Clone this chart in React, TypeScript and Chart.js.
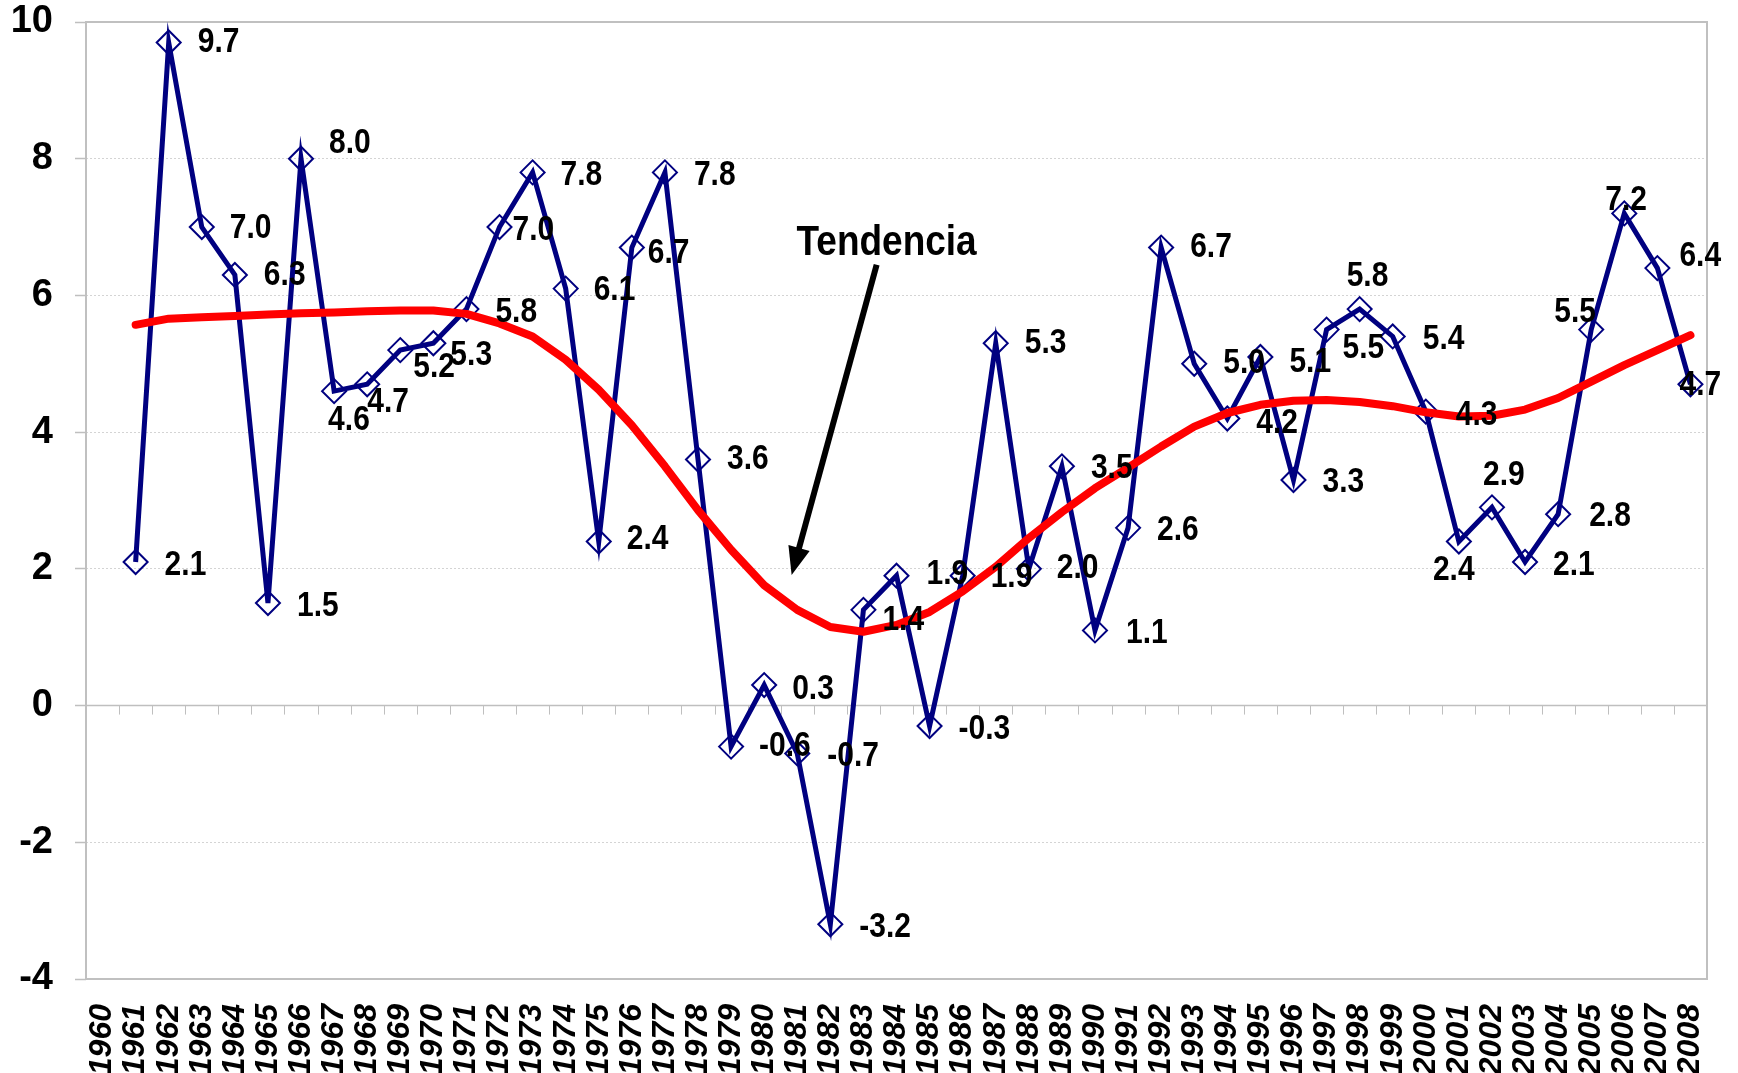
import React, { useEffect, useRef } from 'react';
import { Chart, registerables } from 'chart.js';

Chart.register(...registerables);

const years = [
  '1960', '1961', '1962', '1963', '1964', '1965', '1966', '1967', '1968', '1969',
  '1970', '1971', '1972', '1973', '1974', '1975', '1976', '1977', '1978', '1979',
  '1980', '1981', '1982', '1983', '1984', '1985', '1986', '1987', '1988', '1989',
  '1990', '1991', '1992', '1993', '1994', '1995', '1996', '1997', '1998', '1999',
  '2000', '2001', '2002', '2003', '2004', '2005', '2006', '2007', '2008',
];

const growth: (number | null)[] = [
  null, 2.1, 9.7, 7.0, 6.3, 1.5, 8.0, 4.6, 4.7, 5.2,
  5.3, 5.8, 7.0, 7.8, 6.1, 2.4, 6.7, 7.8, 3.6, -0.6,
  0.3, -0.7, -3.2, 1.4, 1.9, -0.3, 1.9, 5.3, 2.0, 3.5,
  1.1, 2.6, 6.7, 5.0, 4.2, 5.1, 3.3, 5.5, 5.8, 5.4,
  4.3, 2.4, 2.9, 2.1, 2.8, 5.5, 7.2, 6.4, 4.7,
];

const trend: (number | null)[] = [
  null, 5.57, 5.66, 5.68, 5.70, 5.72, 5.74, 5.75, 5.77, 5.78,
  5.78, 5.73, 5.59, 5.40, 5.06, 4.62, 4.10, 3.50, 2.86, 2.28,
  1.76, 1.40, 1.15, 1.08, 1.18, 1.37, 1.67, 2.03, 2.45, 2.83,
  3.18, 3.48, 3.79, 4.08, 4.28, 4.40, 4.46, 4.47, 4.44, 4.38,
  4.29, 4.23, 4.24, 4.33, 4.50, 4.74, 4.98, 5.20, 5.42,
];

// label placement relative to each point: [dx to text start, dy to text middle]
const labelOffsets: ([number, number] | null)[] = [
  null, [29, 3], [29, 0], [28, 1], [29, 0], [29, 3], [28, -15], [-6, 29], [0, 18], [13, 17],
  [17, 12], [29, 3], [13, 3], [28, 3], [28, 2], [28, -2], [16, 6], [29, 3], [29, 0], [28, 0],
  [28, 4], [30, 3], [29, 3], [19, 11], [30, -1], [29, 3], [28, 2], [29, 0], [28, 0], [29, 2],
  [31, 3], [29, 3], [29, 0], [29, 0], [29, 5], [29, 5], [29, 2], [16, 19], [-13, -33], [30, 3],
  [30, 4], [-26, 29], [-9, -32], [28, 3], [31, 2], [-37, -17], [-19, -13], [22, -12], [-11, 1],
];

const annotationText = 'Tendencia';
const annotationTextPos = { x: 23.7, y: 6.77 };
const arrowFrom = { x: 23.4, y: 6.45 };
const arrowTo = { x: 20.83, y: 1.91 };

const FONT = '"Liberation Sans", Arial, Helvetica, sans-serif';
const TEXT_STRETCH = 1.16;

function stretchedText(ctx: CanvasRenderingContext2D, text: string, x: number, y: number) {
  ctx.save();
  ctx.translate(x, y);
  ctx.scale(1, TEXT_STRETCH);
  ctx.fillText(text, 0, 0);
  ctx.restore();
}

export default function App() {
  const ref = useRef<HTMLCanvasElement>(null);

  useEffect(() => {
    const canvas = ref.current;
    if (!canvas) return;

    const framePlugin = {
      id: 'frame',
      beforeDatasetsDraw(chart: any) {
        const { ctx, chartArea: a, scales } = chart;
        const x = scales.x;
        const y = scales.y;
        ctx.save();
        const y0 = y.getPixelForValue(0);
        ctx.strokeStyle = '#bfbfbf';
        ctx.lineWidth = 1.5;
        ctx.beginPath();
        ctx.moveTo(a.left, y0);
        ctx.lineTo(a.right, y0);
        ctx.stroke();
        ctx.lineWidth = 1;
        for (let k = 0; k <= years.length; k++) {
          const px = Math.round(x.getPixelForValue(k - 0.5)) + 0.5;
          ctx.beginPath();
          ctx.moveTo(px, y0);
          ctx.lineTo(px, y0 + 9);
          ctx.stroke();
        }
        ctx.lineWidth = 2;
        ctx.strokeStyle = '#c0c0c0';
        ctx.strokeRect(a.left, a.top, a.right - a.left, a.bottom - a.top);
        ctx.restore();
      },
    };

    const labelPlugin = {
      id: 'pointLabels',
      afterDatasetsDraw(chart: any) {
        const { ctx, scales } = chart;
        const x = scales.x;
        const y = scales.y;
        const meta = chart.getDatasetMeta(0);
        ctx.save();
        ctx.fillStyle = '#000';
        ctx.font = `bold 30px ${FONT}`;
        ctx.textAlign = 'left';
        ctx.textBaseline = 'middle';
        meta.data.forEach((pt: any, i: number) => {
          const v = growth[i];
          const off = labelOffsets[i];
          if (v == null || !off) return;
          stretchedText(ctx, v.toFixed(1), pt.x + off[0], pt.y + off[1]);
        });

        // annotation
        ctx.font = `bold 37px ${FONT}`;
        ctx.textAlign = 'center';
        stretchedText(ctx, annotationText, x.getPixelForValue(annotationTextPos.x), y.getPixelForValue(annotationTextPos.y));

        const sx = x.getPixelForValue(arrowFrom.x);
        const sy = y.getPixelForValue(arrowFrom.y);
        const ex = x.getPixelForValue(arrowTo.x);
        const ey = y.getPixelForValue(arrowTo.y);
        const ang = Math.atan2(ey - sy, ex - sx);
        const headLen = 28;
        const headHalf = 11;
        const bx = ex - Math.cos(ang) * headLen;
        const by = ey - Math.sin(ang) * headLen;
        ctx.strokeStyle = '#000';
        ctx.lineWidth = 6;
        ctx.beginPath();
        ctx.moveTo(sx, sy);
        ctx.lineTo(bx + Math.cos(ang) * 2, by + Math.sin(ang) * 2);
        ctx.stroke();
        ctx.fillStyle = '#000';
        ctx.beginPath();
        ctx.moveTo(ex, ey);
        ctx.lineTo(bx - Math.sin(ang) * headHalf, by + Math.cos(ang) * headHalf);
        ctx.lineTo(bx + Math.sin(ang) * headHalf, by - Math.cos(ang) * headHalf);
        ctx.closePath();
        ctx.fill();
        ctx.restore();
      },
    };

    const chart = new Chart(canvas, {
      type: 'line',
      data: {
        labels: years,
        datasets: [
          {
            label: 'Crecimiento',
            data: growth,
            borderColor: '#000080',
            borderWidth: 5,
            pointStyle: 'rectRot',
            pointRadius: 12,
            pointBorderWidth: 2,
            pointBackgroundColor: 'rgba(0,0,0,0)',
            pointBorderColor: '#000080',
            tension: 0,
            order: 2,
          },
          {
            label: 'Tendencia',
            data: trend,
            borderColor: '#ff0000',
            borderWidth: 8,
            pointRadius: 0,
            tension: 0,
            borderCapStyle: 'round',
            borderJoinStyle: 'round',
            order: 1,
          },
        ],
      },
      options: {
        responsive: false,
        animation: false,
        devicePixelRatio: 1,
        layout: { padding: { top: 22, right: 31, bottom: 0, left: 0 } },
        plugins: {
          legend: { display: false },
          tooltip: { enabled: false },
        },
        scales: {
          x: {
            type: 'category',
            offset: true,
            grid: { display: false, drawTicks: false },
            border: { display: false },
            ticks: {
              autoSkip: false,
              minRotation: 90,
              maxRotation: 90,
              padding: 25,
              color: '#000',
              font: { family: FONT, size: 32, weight: 'bold', style: 'italic' },
            },
            afterFit: (s: any) => {
              s.height = 94;
              s.paddingLeft = 0;
              s.paddingRight = 0;
              s.paddingTop = 0;
              s.paddingBottom = 0;
            },
          },
          y: {
            min: -4,
            max: 10,
            ticks: {
              stepSize: 2,
              color: '#000',
              padding: 22,
              font: { family: FONT, size: 38, weight: 'bold' },
            },
            grid: {
              color: '#d4d4d4',
              lineWidth: 1,
              tickLength: 11,
              tickColor: '#bfbfbf',
              tickWidth: 1.5,
            },
            border: { display: false, dash: [2, 2] },
            afterFit: (s: any) => {
              s.width = 86;
              s.paddingTop = 0;
              s.paddingBottom = 0;
              s.paddingLeft = 0;
              s.paddingRight = 0;
            },
          },
        },
      },
      plugins: [framePlugin, labelPlugin],
    } as any);

    return () => chart.destroy();
  }, []);

  return (
    <div style={{ position: 'absolute', left: 0, top: 0, width: 1738, height: 1073, background: '#fff', overflow: 'hidden' }}>
      <canvas ref={ref} width={1738} height={1073} style={{ display: 'block' }} />
    </div>
  );
}
